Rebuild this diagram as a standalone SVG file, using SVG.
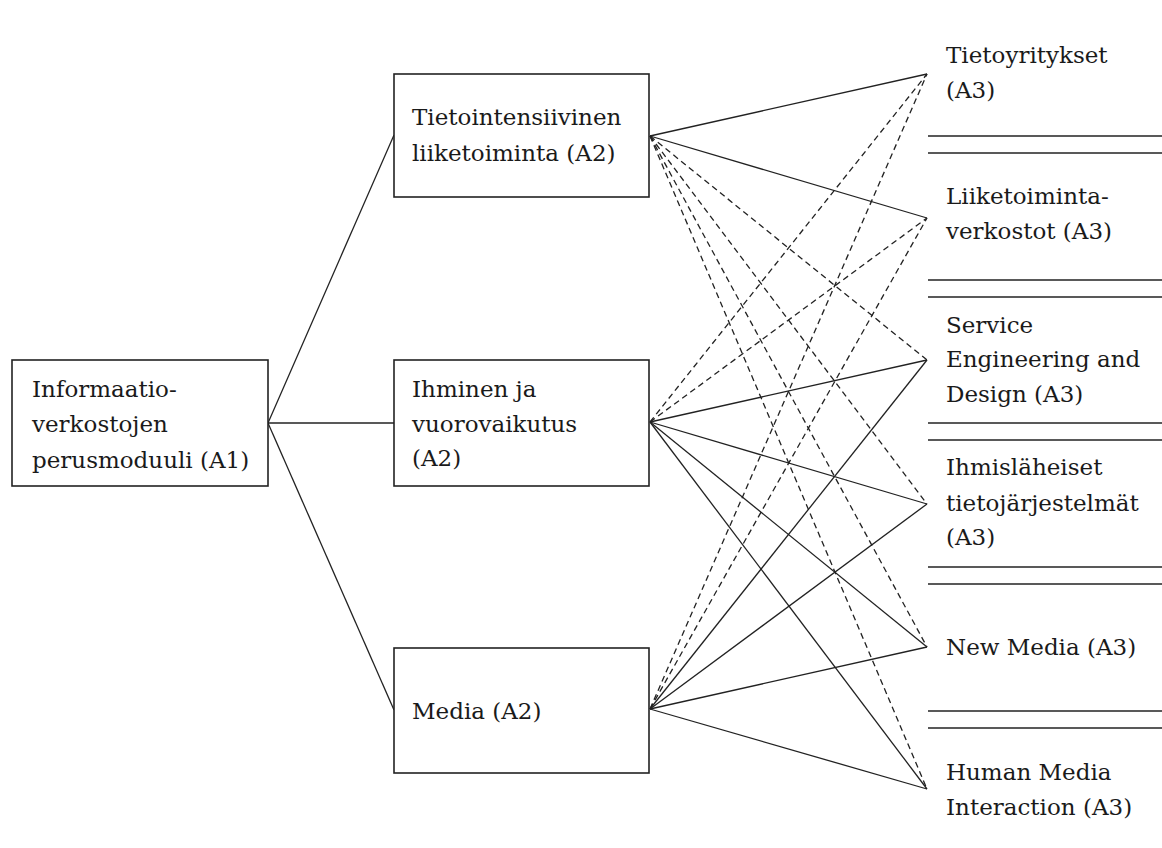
<svg xmlns="http://www.w3.org/2000/svg" width="1162" height="848" viewBox="0 0 1162 848">
<style>
.box{fill:#fff;stroke:#222;stroke-width:1.6}
.t{font-family:"DejaVu Serif","Liberation Serif",serif;font-size:23px;fill:#1a1a1a}
.s{stroke:#222;stroke-width:1.3;fill:none}
.d{stroke:#222;stroke-width:1.3;fill:none;stroke-dasharray:6 4}
.sep{stroke:#222;stroke-width:1.6}
</style>
<rect width="1162" height="848" fill="#fff"/>
<g id="connectors">
<line class="s" x1="268" y1="423" x2="394" y2="135"/>
<line class="s" x1="268" y1="423" x2="394" y2="423"/>
<line class="s" x1="268" y1="423" x2="394" y2="710"/>
<line class="s" x1="650" y1="136" x2="927" y2="74"/>
<line class="s" x1="650" y1="136" x2="927" y2="218"/>
<line class="d" x1="650" y1="136" x2="927" y2="360"/>
<line class="d" x1="650" y1="136" x2="927" y2="504"/>
<line class="d" x1="650" y1="136" x2="927" y2="647"/>
<line class="d" x1="650" y1="136" x2="927" y2="789"/>
<line class="d" x1="650" y1="422" x2="927" y2="74"/>
<line class="d" x1="650" y1="422" x2="927" y2="218"/>
<line class="s" x1="650" y1="422" x2="927" y2="360"/>
<line class="s" x1="650" y1="422" x2="927" y2="504"/>
<line class="s" x1="650" y1="422" x2="927" y2="647"/>
<line class="s" x1="650" y1="422" x2="927" y2="789"/>
<line class="d" x1="650" y1="709" x2="927" y2="74"/>
<line class="d" x1="650" y1="709" x2="927" y2="218"/>
<line class="s" x1="650" y1="709" x2="927" y2="360"/>
<line class="s" x1="650" y1="709" x2="927" y2="504"/>
<line class="s" x1="650" y1="709" x2="927" y2="647"/>
<line class="s" x1="650" y1="709" x2="927" y2="789"/>
</g>
<g id="separators">
<line class="sep" x1="928" y1="136" x2="1162" y2="136"/>
<line class="sep" x1="928" y1="153" x2="1162" y2="153"/>
<line class="sep" x1="928" y1="280" x2="1162" y2="280"/>
<line class="sep" x1="928" y1="297" x2="1162" y2="297"/>
<line class="sep" x1="928" y1="423" x2="1162" y2="423"/>
<line class="sep" x1="928" y1="440" x2="1162" y2="440"/>
<line class="sep" x1="928" y1="567" x2="1162" y2="567"/>
<line class="sep" x1="928" y1="584" x2="1162" y2="584"/>
<line class="sep" x1="928" y1="711" x2="1162" y2="711"/>
<line class="sep" x1="928" y1="728" x2="1162" y2="728"/>
</g>
<g id="a1">
<rect class="box" x="12" y="360" width="256" height="126"/>
<text class="t" x="32" y="397">Informaatio-</text>
<text class="t" x="32" y="432">verkostojen</text>
<text class="t" x="32" y="468">perusmoduuli (A1)</text>
</g>
<g id="a2-tieto">
<rect class="box" x="394" y="74" width="255" height="123"/>
<text class="t" x="412" y="125">Tietointensiivinen</text>
<text class="t" x="412" y="161">liiketoiminta (A2)</text>
</g>
<g id="a2-ihminen">
<rect class="box" x="394" y="360" width="255" height="126"/>
<text class="t" x="412" y="397">Ihminen ja</text>
<text class="t" x="412" y="432">vuorovaikutus</text>
<text class="t" x="412" y="466">(A2)</text>
</g>
<g id="a2-media">
<rect class="box" x="394" y="648" width="255" height="125"/>
<text class="t" x="412" y="719">Media (A2)</text>
</g>
<g id="a3-tietoyritykset">
<text class="t" x="946" y="63">Tietoyritykset</text>
<text class="t" x="946" y="98">(A3)</text>
</g>
<g id="a3-liiketoiminta">
<text class="t" x="946" y="204">Liiketoiminta-</text>
<text class="t" x="946" y="239">verkostot (A3)</text>
</g>
<g id="a3-service">
<text class="t" x="946" y="333">Service</text>
<text class="t" x="946" y="367">Engineering and</text>
<text class="t" x="946" y="402">Design (A3)</text>
</g>
<g id="a3-ihmislaheiset">
<text class="t" x="946" y="475">Ihmisläheiset</text>
<text class="t" x="946" y="511">tietojärjestelmät</text>
<text class="t" x="946" y="545">(A3)</text>
</g>
<g id="a3-newmedia">
<text class="t" x="946" y="655">New Media (A3)</text>
</g>
<g id="a3-hmi">
<text class="t" x="946" y="780">Human Media</text>
<text class="t" x="946" y="815">Interaction (A3)</text>
</g>
</svg>
